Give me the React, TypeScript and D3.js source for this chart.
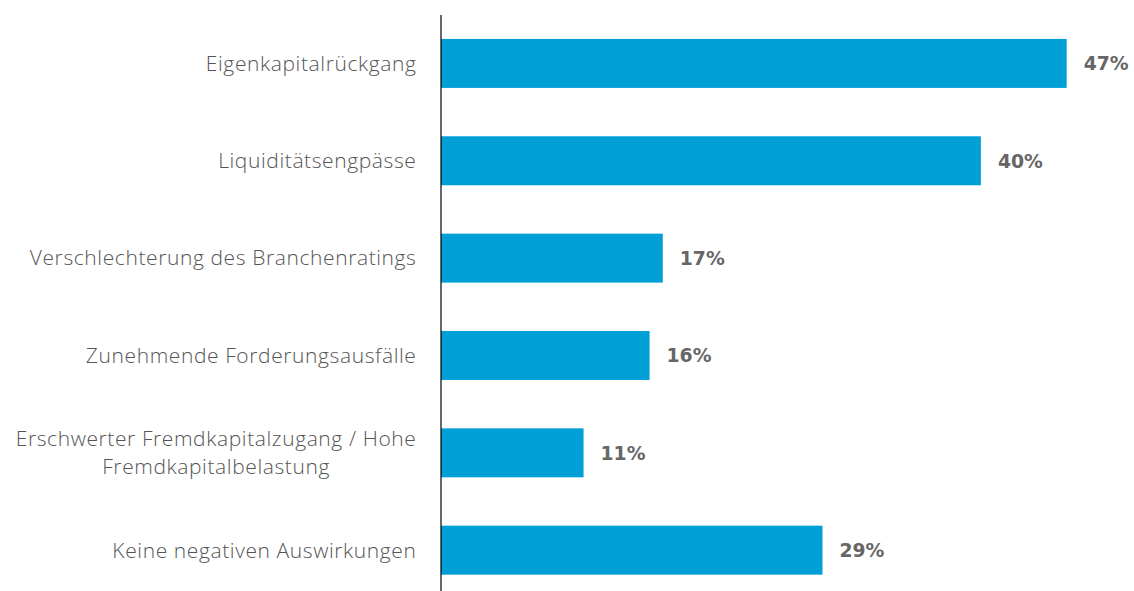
import React, { useRef, useEffect } from "react";
import * as d3 from "d3";

const categories = [
  "Eigenkapitalrückgang",
  "Liquiditätsengpässe",
  "Verschlechterung des Branchenratings",
  "Zunehmende Forderungsausfälle",
  "Erschwerter Fremdkapitalzugang / Hohe|Fremdkapitalbelastung",
  "Keine negativen Auswirkungen",
];
const values = [47.4, 40.9, 16.8, 15.8, 10.8, 28.9];
const valueLabels = ["47%", "40%", "17%", "16%", "11%", "29%"];

function BarChart() {
  const svgRef = useRef<SVGSVGElement>(null);

  useEffect(() => {
    d3.select(svgRef.current).selectAll("*").remove();
    const width = 1134;
    const height = 591;
    const left = 441;
    const svg = d3.select(svgRef.current)
      .attr("width", width)
      .attr("height", height);

    // scales
    const x = d3.scaleLinear().domain([0, 50]).range([left, left + 660]);
    const y = d3.scaleBand()
      .domain(categories)
      .range([14.6, 599])
      .paddingInner(0.497)
      .paddingOuter(0.25);

    // bars
    svg.selectAll(".bar")
      .data(values)
      .join("rect")
      .attr("x", x(0))
      .attr("y", (d, i) => y(categories[i])!)
      .attr("width", d => x(d) - x(0))
      .attr("height", y.bandwidth())
      .attr("fill", "#009fd6");

    // value labels
    svg.selectAll(".val")
      .data(values)
      .join("text")
      .attr("x", d => x(d) + 17)
      .attr("y", (d, i) => y(categories[i])! + y.bandwidth() / 2)
      .attr("dy", "0.36em")
      .attr("font-family", "DejaVu Sans, sans-serif")
      .attr("font-weight", 700)
      .attr("font-size", 18.8)
      .attr("fill", "#666")
      .text((d, i) => valueLabels[i]);

    // axis
    const yAxis = d3.axisLeft(y).tickSize(0).tickPadding(24).tickFormat(() => "");
    const g = svg.append("g")
      .attr("transform", `translate(${left - 0.5},0)`)
      .call(yAxis);
    g.select(".domain").attr("stroke", "#000").attr("stroke-width", 1.2);

    // category labels, split on "|", lines centred within a right-aligned block
    g.selectAll(".tick text").each(function (d) {
      const lines = String(d).split("|");
      const t = d3.select(this)
        .attr("font-family", "Open Sans, sans-serif")
        .attr("font-weight", 300)
        .attr("font-size", 21)
        .attr("letter-spacing", 0.6)
        .attr("fill", "#555")
        .attr("dy", null);
      lines.forEach((line, k) => {
        t.append("tspan")
          .attr("x", -24)
          .attr("dy", k === 0 ? `${0.35 - (lines.length - 1) * 0.67}em` : "1.34em")
          .text(line);
      });
      if (lines.length > 1) {
        const spans = t.selectAll<SVGTSpanElement, unknown>("tspan").nodes();
        const w = d3.max(spans, s => s.getComputedTextLength()) || 0;
        t.attr("text-anchor", "middle");
        spans.forEach(s => s.setAttribute("x", String(-24 - w / 2)));
      }
    });
  }, []);

  return <svg ref={svgRef}></svg>;
}

export default function App() {
  return (
    <div style={{ position: "absolute", left: 0, top: 0, background: "#fff" }}>
      <BarChart />
    </div>
  );
}
